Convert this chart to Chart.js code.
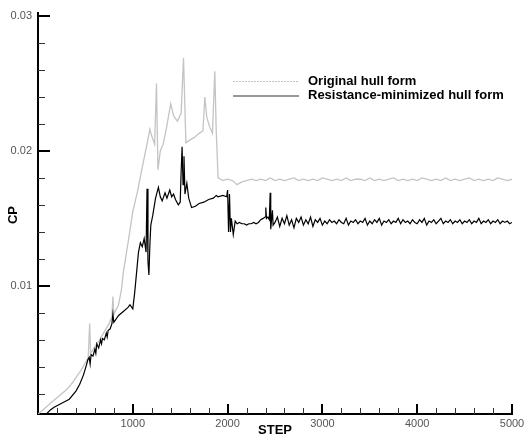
<!DOCTYPE html>
<html>
<head>
<meta charset="utf-8">
<script src="https://cdn.jsdelivr.net/npm/chart.js@4.4.1/dist/chart.umd.min.js"></script>
<style>
  body { margin: 0; background: #fff; }
  canvas { display: block; }
</style>
</head>
<body>
<canvas id="myChart" width="532" height="441"></canvas>
<script>
'use strict';

// Original hull form (light grey)
let originalSteps = [0, 50, 100, 150, 200, 250, 300, 350, 400, 450, 500, 530, 545, 555, 600, 650, 700, 750, 780, 790, 800, 850, 880,
  900, 950, 1000, 1050, 1100, 1150, 1180, 1200, 1230, 1250, 1265, 1290, 1320, 1350, 1400, 1430, 1470, 1510, 1535, 1560,
  1600, 1650, 1700, 1740, 1760, 1780, 1810, 1840, 1865, 1880, 1900, 1950, 2000, 2050, 2100,
  2150, 2200, 2250, 2300, 2350, 2400, 2450, 2500, 2550, 2600, 2650, 2700, 2750, 2800, 2850, 2900, 2950,
  3000, 3050, 3100, 3150, 3200, 3250, 3300, 3350, 3400, 3450, 3500, 3550, 3600, 3650, 3700, 3750, 3800, 3850, 3900, 3950,
  4000, 4050, 4100, 4150, 4200, 4250, 4300, 4350, 4400, 4450, 4500, 4550, 4600, 4650, 4700, 4750, 4800, 4850, 4900, 4950, 5000];
let originalCp = [0.0005, 0.0008, 0.0011, 0.0014, 0.0017, 0.0020, 0.0023, 0.0027, 0.0032, 0.0037, 0.0043, 0.0047, 0.0072, 0.0050, 0.0055, 0.0060, 0.0066, 0.0072, 0.0077, 0.0092, 0.0079, 0.0086, 0.0097,
  0.0110, 0.0132, 0.0155, 0.0170, 0.0188, 0.0205, 0.0216, 0.0211, 0.0205, 0.0250, 0.0186, 0.0200, 0.0205, 0.0215, 0.0235, 0.0226, 0.0222, 0.0228, 0.0269, 0.0206,
  0.0208, 0.0210, 0.0213, 0.0215, 0.0240, 0.0225, 0.0218, 0.0213, 0.0259, 0.0215, 0.0180, 0.0178, 0.0179, 0.0178, 0.0175,
  0.0177, 0.0178, 0.0179, 0.0178, 0.0179, 0.0178, 0.0180, 0.0178, 0.0179, 0.0178, 0.0179, 0.0180, 0.0178, 0.0179, 0.0178, 0.0179, 0.0178,
  0.0180, 0.0179, 0.0178, 0.0179, 0.0178, 0.0180, 0.0178, 0.0179, 0.0179, 0.0178, 0.0180, 0.0178, 0.0179, 0.0178, 0.0179, 0.0180, 0.0178, 0.0179, 0.0178, 0.0179,
  0.0178, 0.0180, 0.0179, 0.0178, 0.0179, 0.0178, 0.0180, 0.0178, 0.0179, 0.0178, 0.0179, 0.0180, 0.0178, 0.0179, 0.0178, 0.0179, 0.0178, 0.0180, 0.0179, 0.0178, 0.0179];

// Resistance-minimized hull form (black)
let minimizedSteps = [90, 130, 170, 250, 330, 400, 440, 480, 510, 525, 540, 550, 560, 580, 600, 610, 620, 640, 660, 670, 680, 700, 720, 730, 740, 760,
  780, 790, 800, 850, 900, 950, 970, 1000, 1020, 1040, 1060, 1080, 1100, 1120, 1140, 1150, 1160, 1170, 1180, 1190,
  1210, 1240, 1270, 1290, 1310, 1340, 1360, 1390, 1410, 1430, 1450, 1480, 1500, 1510, 1520, 1530, 1540, 1550, 1570, 1590,
  1620, 1660, 1700, 1750, 1800, 1850, 1880, 1900, 1950, 1990, 2000, 2010, 2020, 2030, 2040, 2060, 2080,
  2100, 2125, 2150, 2175, 2200, 2225, 2250, 2275, 2300, 2325, 2350, 2375, 2395, 2403, 2410, 2425, 2440, 2449, 2455, 2465, 2473, 2480,
  2500, 2525, 2550, 2575, 2600, 2625, 2650, 2675, 2700, 2725, 2750, 2775, 2800, 2825, 2850, 2875, 2900, 2925, 2950, 2975,
  3000, 3025, 3050, 3075, 3100, 3125, 3150, 3175, 3200, 3225, 3250, 3275, 3300, 3325, 3350, 3375, 3400, 3425, 3450, 3475,
  3500, 3525, 3550, 3575, 3600, 3625, 3650, 3675, 3700, 3725, 3750, 3775, 3800, 3825, 3850, 3875, 3900, 3925, 3950, 3975,
  4000, 4025, 4050, 4075, 4100, 4125, 4150, 4175, 4200, 4225, 4250, 4275, 4300, 4325, 4350, 4375, 4400, 4425, 4450, 4475,
  4500, 4525, 4550, 4575, 4600, 4625, 4650, 4675, 4700, 4725, 4750, 4775, 4800, 4825, 4850, 4875, 4900, 4925, 4950, 4975, 5000];
let minimizedCp = [0.0005, 0.0008, 0.0010, 0.0013, 0.0016, 0.0022, 0.0027, 0.0034, 0.0041, 0.0045, 0.0047, 0.0042, 0.0049, 0.0048, 0.0053, 0.0050, 0.0057, 0.0054, 0.0060, 0.0057, 0.0061, 0.0060, 0.0065, 0.0062, 0.0067, 0.0068,
  0.0072, 0.0079, 0.0073, 0.0078, 0.0081, 0.0084, 0.0086, 0.0083, 0.0095, 0.0110, 0.0125, 0.0132, 0.0129, 0.0135, 0.0125, 0.0172, 0.0118, 0.0108, 0.0130, 0.0145,
  0.0152, 0.0165, 0.0173, 0.0166, 0.0163, 0.0169, 0.0165, 0.0171, 0.0166, 0.0168, 0.0164, 0.0160, 0.0162, 0.0185, 0.0203, 0.0175, 0.0196, 0.0168, 0.0176, 0.0165,
  0.0158, 0.0159, 0.0161, 0.0162, 0.0164, 0.0165, 0.0167, 0.0166, 0.0167, 0.0166, 0.0171, 0.0140, 0.0168, 0.0140, 0.0150, 0.0138, 0.0148,
  0.0146, 0.0147, 0.0146, 0.0146, 0.0145, 0.0146, 0.0146, 0.0147, 0.0146, 0.0147, 0.0149, 0.0150, 0.0151, 0.0158, 0.0150, 0.0151, 0.0149, 0.0169, 0.0142, 0.0150, 0.0156, 0.0145,
  0.0147, 0.0151, 0.0144, 0.0150, 0.0146, 0.0152, 0.0145, 0.0149, 0.0143, 0.0150, 0.0147, 0.0151, 0.0145, 0.0149, 0.0146, 0.0151, 0.0144, 0.0149, 0.0147, 0.0150,
  0.0145, 0.0148, 0.0146, 0.0149, 0.0147, 0.0148, 0.0146, 0.0149, 0.0147, 0.0146, 0.0150, 0.0145, 0.0148, 0.0147, 0.0149, 0.0146, 0.0148, 0.0147, 0.0150, 0.0145,
  0.0148, 0.0146, 0.0149, 0.0147, 0.0150, 0.0145, 0.0148, 0.0147, 0.0149, 0.0146, 0.0148, 0.0147, 0.0150, 0.0146, 0.0149, 0.0147, 0.0148, 0.0146, 0.0149, 0.0147,
  0.0146, 0.0149, 0.0147, 0.0150, 0.0145, 0.0148, 0.0147, 0.0149, 0.0146, 0.0148, 0.0150, 0.0146, 0.0148, 0.0147, 0.0149, 0.0146, 0.0148, 0.0147, 0.0149, 0.0146,
  0.0148, 0.0147, 0.0149, 0.0146, 0.0148, 0.0147, 0.0150, 0.0146, 0.0148, 0.0147, 0.0149, 0.0146, 0.0148, 0.0147, 0.0149, 0.0146, 0.0148, 0.0147, 0.0148, 0.0146, 0.0147];

let seriesNames = ['Original hull form', 'Resistance-minimized hull form'];

// ticks
let xMajorTicks = [1000, 2000, 3000, 4000, 5000];
let xMinorTicks = [200, 400, 600, 800, 1200, 1400, 1600, 1800, 2200, 2400, 2600, 2800,
  3200, 3400, 3600, 3800, 4200, 4400, 4600, 4800];
let yMajorTicks = [0.01, 0.02, 0.03];
let yMinorTicks = [0.002, 0.004, 0.006, 0.008, 0.012, 0.014, 0.016, 0.018,
  0.022, 0.024, 0.026, 0.028];

function toPoints(steps, values){
    let pts = [];
    for(let i = 0; i < steps.length; i++){
        pts.push({x: steps[i], y: values[i]});
    }
    return pts;
}

// inward tick marks + legend, drawn on top
let axisExtras = {
    id: 'axisExtras',
    afterDraw(chart){
        let ctx = chart.ctx;
        let xs = chart.scales.x;
        let ys = chart.scales.y;
        let area = chart.chartArea;
        ctx.save();

        ctx.lineWidth = 1;
        ctx.strokeStyle = '#333';
        yMinorTicks.forEach(function(v){
            let y = Math.round(ys.getPixelForValue(v)) + 0.5;
            ctx.beginPath(); ctx.moveTo(area.left, y); ctx.lineTo(area.left + 7, y); ctx.stroke();
        });
        xMinorTicks.forEach(function(v){
            let x = Math.round(xs.getPixelForValue(v)) + 0.5;
            ctx.beginPath(); ctx.moveTo(x, area.bottom); ctx.lineTo(x, area.bottom - 6); ctx.stroke();
        });

        ctx.lineWidth = 2;
        ctx.strokeStyle = '#000';
        yMajorTicks.forEach(function(v){
            let y = Math.round(ys.getPixelForValue(v));
            ctx.beginPath(); ctx.moveTo(area.left, y); ctx.lineTo(area.left + 12, y); ctx.stroke();
        });
        xMajorTicks.forEach(function(v){
            let x = Math.round(xs.getPixelForValue(v));
            ctx.beginPath(); ctx.moveTo(x, area.bottom); ctx.lineTo(x, area.bottom - 10); ctx.stroke();
        });
        // axis line runs a little past the top tick
        ctx.beginPath(); ctx.moveTo(area.left, area.top); ctx.lineTo(area.left, area.top - 4); ctx.stroke();

        // legend
        ctx.lineWidth = 1;
        ctx.strokeStyle = '#c4c4c4';
        ctx.setLineDash([2, 1]);
        ctx.beginPath(); ctx.moveTo(233, 81.5); ctx.lineTo(299, 81.5); ctx.stroke();
        ctx.setLineDash([]);
        ctx.lineWidth = 1.5;
        ctx.strokeStyle = '#777';
        ctx.beginPath(); ctx.moveTo(233, 96); ctx.lineTo(299, 96); ctx.stroke();

        ctx.fillStyle = '#000';
        ctx.font = 'bold 13px "Liberation Sans", Arial, sans-serif';
        ctx.textBaseline = 'middle';
        ctx.textAlign = 'left';
        ctx.fillText(seriesNames[0], 308, 81);
        ctx.fillText(seriesNames[1], 308, 95.5);
        ctx.restore();
    }
};

let ctx = document.getElementById('myChart').getContext('2d');
let chart = new Chart(ctx, {
    type: 'line',
    data: {
        datasets: [{
            label: seriesNames[1],
            data: toPoints(minimizedSteps, minimizedCp),
            borderColor: '#000',
            borderWidth: 1.2,
            pointRadius: 0,
            tension: 0,
            order: 0
        },{
            label: seriesNames[0],
            data: toPoints(originalSteps, originalCp),
            borderColor: '#c4c4c4',
            borderWidth: 1.3,
            pointRadius: 0,
            tension: 0,
            order: 1
        }]
    },
    options: {
        responsive: false,
        animation: false,
        layout: { padding: { top: 16, right: 20, left: 0, bottom: 0 } },
        plugins: { legend: { display: false }, tooltip: { enabled: false } },
        scales: {
            x: {
                type: 'linear',
                min: 0,
                max: 5000,
                afterBuildTicks: function(scale){ scale.ticks = xMajorTicks.map(function(v){ return {value: v}; }); },
                afterFit: function(scale){ scale.height = 27; },
                grid: { display: false, drawTicks: false },
                border: { display: true, color: '#000', width: 2 },
                ticks: {
                    padding: 3,
                    color: '#555',
                    font: { family: '"Liberation Sans", Arial, sans-serif', size: 11 },
                    maxRotation: 0,
                    callback: function(v){ return String(v); }
                },
                title: {
                    display: true,
                    text: 'STEP',
                    color: '#000',
                    font: { family: '"Liberation Sans", Arial, sans-serif', size: 13, weight: 'bold' },
                    padding: { top: 0, bottom: 3 }
                }
            },
            y: {
                min: 0.0005,
                max: 0.03,
                afterBuildTicks: function(scale){ scale.ticks = yMajorTicks.map(function(v){ return {value: v}; }); },
                afterFit: function(scale){ scale.width = 38; },
                grid: { display: false, drawTicks: false },
                border: { display: true, color: '#000', width: 2 },
                ticks: {
                    padding: 6,
                    color: '#555',
                    font: { family: '"Liberation Sans", Arial, sans-serif', size: 11 },
                    callback: function(v){ return v.toFixed(2); }
                },
                title: {
                    display: true,
                    text: 'CP',
                    color: '#000',
                    font: { family: '"Liberation Sans", Arial, sans-serif', size: 13, weight: 'bold' },
                    padding: { top: 6, bottom: 0 }
                }
            }
        }
    },
    plugins: [axisExtras]
});
</script>
</body>
</html>
